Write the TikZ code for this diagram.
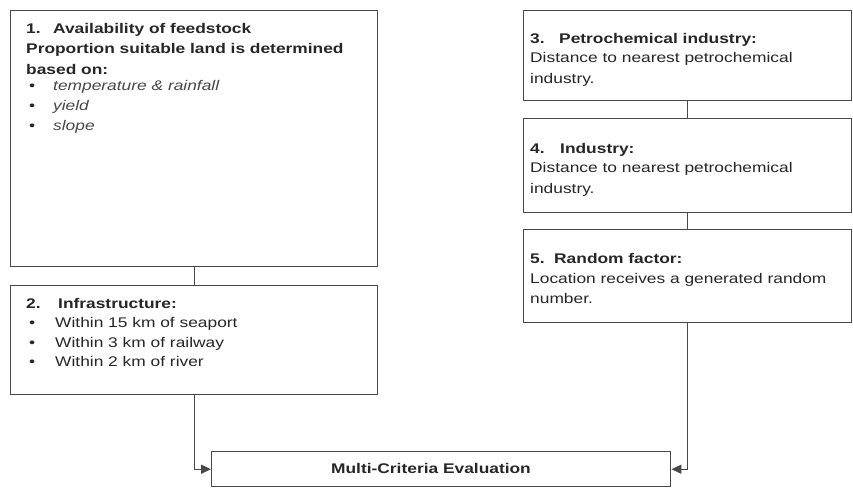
\documentclass[tikz,border=0pt]{standalone}
\usepackage{fontspec}
\setmainfont{Liberation Sans}[FakeStretch=1.24]
\usetikzlibrary{arrows.meta}
\definecolor{linegray}{HTML}{484848}
\definecolor{txt}{HTML}{262626}
\begin{document}
\begin{tikzpicture}[x=1pt,y=-1pt,
  box/.style={draw=linegray, line width=1.4pt, rectangle, inner sep=0pt, anchor=north west},
  txtline/.style={anchor=base west, inner sep=0pt, text=txt, font=\fontsize{14}{16}\selectfont},
  hd/.style={txtline, font=\fontsize{14}{16}\selectfont\bfseries},
  itl/.style={txtline, text=txt!85, font=\fontsize{14}{16}\selectfont\itshape},
  link/.style={draw=linegray, line width=1.4pt},
  flow/.style={link, -{Triangle[length=10pt,width=9pt]}}]
\useasboundingbox (0,0) rectangle (853,488);

% boxes
\node[box, minimum width=367pt, minimum height=256pt] (b1) at (10,10) {};
\node[box, minimum width=367pt, minimum height=109pt] (b2) at (10,285) {};
\node[box, minimum width=328pt, minimum height=90pt] (b3) at (523,10) {};
\node[box, minimum width=328pt, minimum height=94pt] (b4) at (523,118) {};
\node[box, minimum width=328pt, minimum height=93pt] (b5) at (523,229) {};
\node[box, minimum width=459pt, minimum height=35pt] (mce) at (211,451) {};

% box 1 text
\node[hd] (t1n) at (26,33) {1.};
\node[hd] (t1a) at (53,33) {Availability of feedstock};
\node[hd] (t1b) at (26,53) {Proportion suitable land is determined};
\node[hd] (t1c) at (26,74.5) {based on:};
\node[txtline] (t1d) at (29,90) {•};
\node[itl] (t1e) at (53,90) {temperature \& rainfall};
\node[txtline] (t1f) at (29,110) {•};
\node[itl] (t1g) at (53,110) {yield};
\node[txtline] (t1h) at (29,130) {•};
\node[itl] (t1i) at (53,130) {slope};

% box 2 text
\node[hd] (t2n) at (26,308) {2.};
\node[hd] (t2a) at (58,308) {Infrastructure:};
\node[txtline] (t2b) at (29,327) {•};
\node[txtline] (t2c) at (55,327) {Within 15 km of seaport};
\node[txtline] (t2d) at (29,347) {•};
\node[txtline] (t2e) at (55,347) {Within 3 km of railway};
\node[txtline] (t2f) at (29,366) {•};
\node[txtline] (t2g) at (55,366) {Within 2 km of river};

% box 3 text
\node[hd] (t3n) at (530,43) {3.};
\node[hd] (t3a) at (559,43) {Petrochemical industry:};
\node[txtline] (t3b) at (530,62) {Distance to nearest petrochemical};
\node[txtline] (t3c) at (530,83) {industry.};

% box 4 text
\node[hd] (t4n) at (530,153) {4.};
\node[hd] (t4a) at (560,153) {Industry:};
\node[txtline] (t4b) at (530,172) {Distance to nearest petrochemical};
\node[txtline] (t4c) at (530,193) {industry.};

% box 5 text
\node[hd] (t5n) at (530,263) {5.};
\node[hd] (t5a) at (554,263) {Random factor:};
\node[txtline] (t5b) at (530,283) {Location receives a generated random};
\node[txtline] (t5c) at (530,303) {number.};

% evaluation box label
\node[hd, anchor=base] (tm) at (431,473.5) {Multi-Criteria Evaluation};

% connectors
\draw[link] (b1.south) -- (b2.north);
\draw[link] (b3.south) -- (b4.north);
\draw[link] (b4.south) -- (b5.north);
\draw[flow] (b2.south) |- (mce.west);
\draw[flow] (b5.south) |- (mce.east);
\end{tikzpicture}
\end{document}
